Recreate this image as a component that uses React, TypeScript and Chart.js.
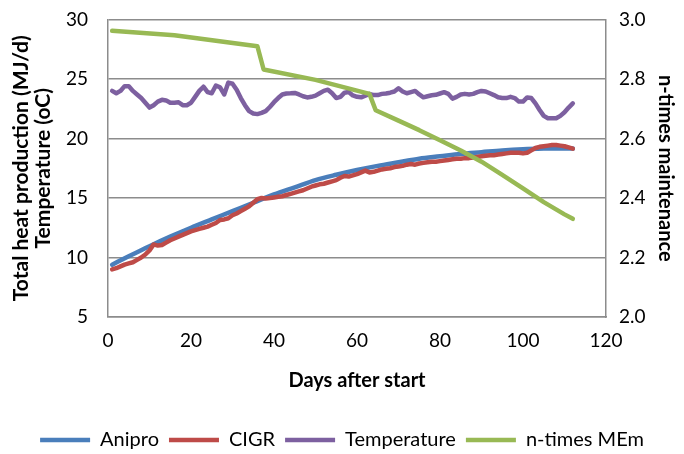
import { useEffect, useRef } from "react";
import { Chart, registerables } from "chart.js";

Chart.register(...registerables);

// ---- data ----
const DAYS = Array.from({ length: 112 }, (_, i) => i + 1);

const ANIPRO_DAYS = [1, 5, 10, 15, 20, 25, 30, 35, 40, 45, 50, 55, 60, 65, 70, 75, 80, 85, 90, 95, 100, 105, 110, 112];
const ANIPRO = [9.4, 10.1, 10.95, 11.75, 12.5, 13.2, 13.9, 14.6, 15.3, 15.9, 16.5, 16.95, 17.35, 17.7, 18.0, 18.3, 18.5, 18.7, 18.85, 19.0, 19.1, 19.15, 19.17, 19.15];

const CIGR = [
  9.0, 9.1, 9.25, 9.4, 9.5, 9.6, 9.8, 10.0, 10.25, 10.6,
  11.1, 11.0, 11.05, 11.25, 11.45, 11.6, 11.75, 11.9, 12.05, 12.2,
  12.3, 12.4, 12.5, 12.6, 12.75, 12.9, 13.15, 13.2, 13.3, 13.55,
  13.7, 13.9, 14.1, 14.3, 14.6, 14.9, 15.0, 14.95, 15.0, 15.05,
  15.1, 15.15, 15.25, 15.35, 15.45, 15.55, 15.65, 15.8, 15.95, 16.05,
  16.15, 16.2, 16.3, 16.4, 16.5, 16.7, 16.85, 16.8, 16.9, 17.0,
  17.15, 17.3, 17.15, 17.2, 17.3, 17.4, 17.45, 17.5, 17.6, 17.65,
  17.7, 17.8, 17.85, 17.8, 17.9, 17.95, 18.0, 18.05, 18.05, 18.1,
  18.15, 18.2, 18.25, 18.3, 18.3, 18.35, 18.35, 18.4, 18.45, 18.5,
  18.55, 18.6, 18.6, 18.65, 18.7, 18.75, 18.8, 18.8, 18.8, 18.75,
  18.8, 19.0, 19.2, 19.3, 19.35, 19.4, 19.45, 19.45, 19.4, 19.35,
  19.25, 19.15,
];

const TEMPERATURE = [
  24.0, 23.8, 24.0, 24.4, 24.4, 24.0, 23.7, 23.4, 23.0, 22.6,
  22.8, 23.1, 23.25, 23.2, 23.0, 23.0, 23.05, 22.8, 22.8, 23.0,
  23.5, 24.0, 24.35, 23.9, 23.8, 24.45, 24.3, 23.7, 24.7, 24.6,
  24.1, 23.4, 22.8, 22.3, 22.1, 22.05, 22.15, 22.3, 22.65, 23.05,
  23.4, 23.7, 23.78, 23.8, 23.83, 23.7, 23.55, 23.45, 23.5, 23.6,
  23.8, 24.0, 24.1, 23.8, 23.4, 23.5, 23.85, 23.9, 23.62, 23.5,
  23.46, 23.6, 23.75, 23.65, 23.65, 23.75, 23.78, 23.85, 23.95, 24.22,
  23.95, 23.8, 23.9, 24.0, 23.7, 23.46, 23.55, 23.63, 23.67, 23.78,
  23.89, 23.75, 23.35, 23.5, 23.7, 23.75, 23.7, 23.75, 23.89, 24.0,
  23.95, 23.8, 23.65, 23.46, 23.4, 23.4, 23.5, 23.4, 23.1, 23.1,
  23.45, 23.4, 22.95, 22.4, 21.9, 21.7, 21.7, 21.7, 21.9, 22.2,
  22.6, 22.95,
];

const MEM_DAYS = [1, 16, 36, 37.5, 50, 63, 64.5, 70, 75, 80, 85, 90, 95, 100, 105, 110, 112];
const MEM = [2.962, 2.947, 2.91, 2.832, 2.797, 2.75, 2.695, 2.66, 2.628, 2.594, 2.56, 2.522, 2.478, 2.432, 2.386, 2.345, 2.33];

const SERIES_NAMES = ["Anipro", "CIGR", "Temperature", "n-times MEm"];
const SERIES_COLORS = ["#4A7EBB", "#BE4B48", "#7D60A0", "#98B954"];
const LEFT_TITLE = ["Total heat production (MJ/d)", "Temperature (oC)"];
const RIGHT_TITLE = "n-times maintenance";
const X_TITLE = "Days after start";

const FONT = "Lato, 'Open Sans', sans-serif";
const GRID = "#8c8c8c";

export default function App() {
  const ref = useRef<HTMLCanvasElement>(null);

  useEffect(() => {
    const pts = (xs: number[], ys: number[]) => xs.map((x, i) => ({ x, y: ys[i] }));
    const mk = (i: number, data: any[], axis: string, order: number) => ({
      label: SERIES_NAMES[i],
      data,
      yAxisID: axis,
      borderColor: SERIES_COLORS[i],
      backgroundColor: SERIES_COLORS[i],
      borderWidth: 4.5,
      pointRadius: 0,
      tension: 0,
      borderJoinStyle: "round" as const,
      borderCapStyle: "round" as const,
      order,
    });

    const chart = new Chart(ref.current!, {
      type: "line",
      data: {
        datasets: [
          { ...mk(0, pts(ANIPRO_DAYS, ANIPRO), "y", 4), cubicInterpolationMode: "monotone" as const },
          mk(1, pts(DAYS, CIGR), "y", 3),
          mk(2, pts(DAYS, TEMPERATURE), "y", 2),
          mk(3, pts(MEM_DAYS, MEM), "y1", 1),
        ],
      },
      options: {
        responsive: false,
        animation: false,
        layout: { padding: { top: 19.5, left: 0, right: 0, bottom: 0 } },
        plugins: {
          tooltip: { enabled: false },
          legend: {
            position: "bottom",
            labels: {
              usePointStyle: true,
              pointStyle: "line",
              pointStyleWidth: 50,
              padding: 10,
              color: "#000",
              font: { family: FONT, size: 20 },
              sort: (a: any, b: any) => a.datasetIndex - b.datasetIndex,
            },
          },
        },
        scales: {
          x: {
            type: "linear",
            min: 0,
            max: 120,
            ticks: { stepSize: 20, padding: 12, color: "#000", font: { family: FONT, size: 19 } },
            grid: { display: false, drawTicks: false },
            border: { display: true, color: GRID, width: 1.5 },
            title: {
              display: true,
              text: X_TITLE,
              color: "#000",
              font: { family: FONT, size: 20, weight: "bold" },
              padding: { top: 0, bottom: 27 },
            },
            afterFit: (s: any) => {
              s.height = 103;
            },
          },
          y: {
            position: "left",
            min: 5,
            max: 30,
            ticks: { stepSize: 5, padding: 0, color: "#000", font: { family: FONT, size: 19 } },
            grid: { color: GRID, lineWidth: 1.5, drawTicks: true, tickLength: 20, tickColor: "rgba(0,0,0,0)" },
            border: { display: true, color: GRID, width: 1.5 },
            title: {
              display: true,
              text: LEFT_TITLE,
              color: "#000",
              font: { family: FONT, size: 21, weight: "bold", lineHeight: 1.08 },
              padding: { top: 9.5, bottom: 0 },
            },
            afterFit: (s: any) => {
              s.width = 108;
            },
          },
          y1: {
            position: "right",
            min: 2,
            max: 3,
            ticks: {
              stepSize: 0.2,
              padding: 0,
              color: "#000",
              font: { family: FONT, size: 19 },
              callback: (v: any) => Number(v).toFixed(1),
            },
            grid: { drawOnChartArea: false, drawTicks: true, tickLength: 13, tickColor: "rgba(0,0,0,0)" },
            border: { display: true, color: GRID, width: 1.5 },
            title: {
              display: true,
              text: RIGHT_TITLE,
              color: "#000",
              font: { family: FONT, size: 20, weight: "bold", lineHeight: 1.2 },
              padding: { top: 7, bottom: 0 },
            },
            afterFit: (s: any) => {
              s.width = 78;
            },
          },
        },
      },
    });
    return () => chart.destroy();
  }, []);

  return (
    <div
      style={{
        position: "fixed",
        left: 0,
        top: 0,
        width: 684,
        height: 454,
        overflow: "hidden",
        background: "#fff",
      }}
    >
      <canvas ref={ref} width={684} height={460} style={{ display: "block", width: 684, height: 460 }} />
    </div>
  );
}
